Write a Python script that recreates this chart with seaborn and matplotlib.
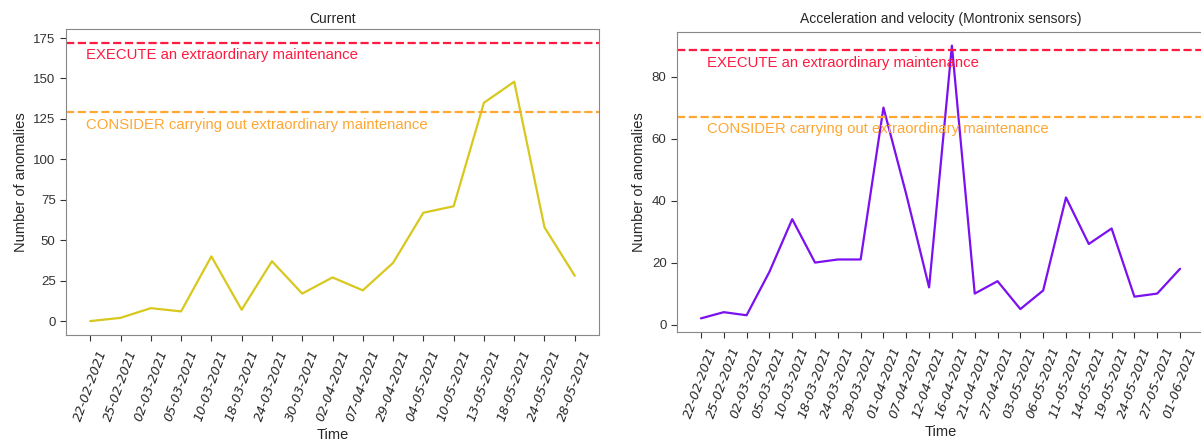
import pandas as pd
import matplotlib
matplotlib.use("Agg")
import matplotlib.pyplot as plt
import seaborn as sns

# Current
cur_dates = ["22-02-2021", "25-02-2021", "02-03-2021", "05-03-2021", "10-03-2021",
             "18-03-2021", "24-03-2021", "30-03-2021", "02-04-2021", "07-04-2021",
             "29-04-2021", "04-05-2021", "10-05-2021", "13-05-2021", "18-05-2021",
             "24-05-2021", "28-05-2021"]
cur_values = [0, 2, 8, 6, 40, 7, 37, 17, 27, 19, 36, 67, 71, 135, 148, 58, 28]
cur_execute = 172
cur_consider = 129

# Acceleration and velocity
acc_dates = ["22-02-2021", "25-02-2021", "02-03-2021", "05-03-2021", "10-03-2021",
             "18-03-2021", "24-03-2021", "29-03-2021", "01-04-2021", "07-04-2021",
             "12-04-2021", "16-04-2021", "21-04-2021", "27-04-2021", "03-05-2021",
             "06-05-2021", "11-05-2021", "14-05-2021", "19-05-2021", "24-05-2021",
             "27-05-2021", "01-06-2021"]
acc_values = [2, 4, 3, 17, 34, 20, 21, 21, 70, 42, 12, 90, 10, 14, 5, 11, 41, 26, 31, 9, 10, 18]
acc_execute = 88.5
acc_consider = 67

sns.set_style("white")
plt.rcParams['font.family'] = ['Liberation Sans', 'DejaVu Sans']

fig = plt.figure(figsize=(12.01, 4.44), dpi=100)
ax1 = fig.add_axes([66 / 1201, 109 / 444, 533 / 1201, 306 / 444])
ax2 = fig.add_axes([677 / 1201, 112 / 444, 527 / 1201, 300 / 444])


def draw(ax, dates, values, execute, consider, color, title, dx, title_pad):
    df = pd.DataFrame({"Time": dates, "Number of anomalies": values})
    sns.lineplot(data=df, x="Time", y="Number of anomalies", color=color, ax=ax,
                 sort=False, linewidth=1.6)
    ax.axhline(execute, color="#ff1a40", linestyle="--", linewidth=1.6)
    ax.axhline(consider, color="#ffa733", linestyle="--", linewidth=1.6)
    ax.annotate("EXECUTE an extraordinary maintenance", (dx, execute),
                xytext=(0, -4), textcoords="offset points",
                color="#ff1a40", fontsize=10.7, va="top")
    ax.annotate("CONSIDER carrying out extraordinary maintenance", (dx, consider),
                xytext=(0, -4), textcoords="offset points",
                color="#ffa733", fontsize=10.7, va="top")
    ax.set_title(title, fontsize=10, pad=title_pad)
    ax.set_xlabel("Time", fontsize=10.5)
    ax.set_ylabel("Number of anomalies", fontsize=10.5)
    ax.set_xlim(-0.05 * (len(dates) - 1), (len(dates) - 1) * 1.05)
    ax.tick_params(axis="x", rotation=70, labelsize=9.3, length=4, color="#333333", pad=5)
    ax.tick_params(axis="y", labelsize=9.5, length=4, color="#333333", labelcolor="#333333")
    ax.tick_params(bottom=True, left=True)
    for lab in ax.get_xticklabels():
        lab.set_fontstyle("italic")
        lab.set_ha("center")
        lab.set_family("DejaVu Sans")
    for s in ax.spines.values():
        s.set_color("#888888")


draw(ax1, cur_dates, cur_values, cur_execute, cur_consider, "#d8c81e",
     "Current", -0.15, 4.5)
draw(ax2, acc_dates, acc_values, acc_execute, acc_consider, "#7b10f0",
     "Acceleration and velocity (Montronix sensors)", 0.25, 6.5)
ax1.set_yticks([0, 25, 50, 75, 100, 125, 150, 175])
ax2.set_yticks([0, 20, 40, 60, 80])

fig.savefig("out.png", dpi=100)
